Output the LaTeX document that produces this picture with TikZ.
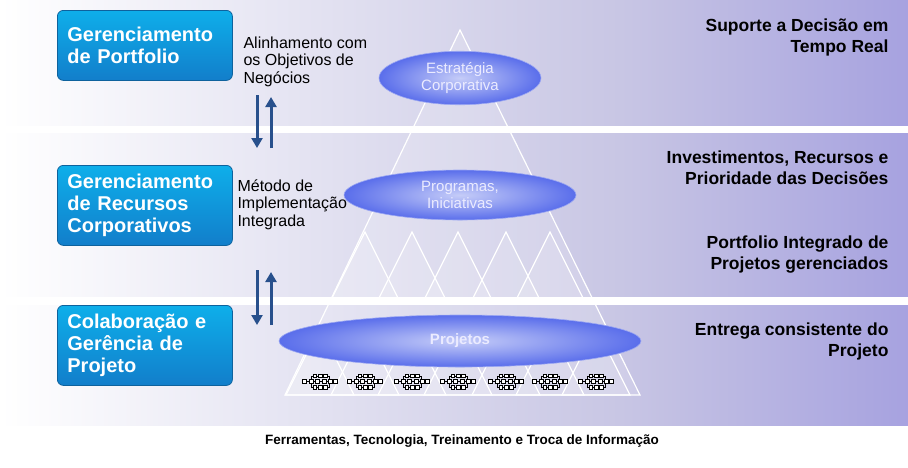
\documentclass[tikz,border=0pt]{standalone}
\usepackage{fontspec}
\setmainfont{Liberation Sans}
\usetikzlibrary{shapes.geometric,arrows.meta}
\definecolor{lav}{RGB}{200,198,228}
\definecolor{lavd}{RGB}{185,180,220}
\definecolor{boxb}{RGB}{20,140,225}
\definecolor{ellb}{RGB}{90,110,235}
\definecolor{arr}{RGB}{40,80,140}
\tikzset{
  bluebox/.style={draw=boxb!70!black,line width=0.8pt,rounded corners=6pt,top color=boxb!70!cyan,bottom color=boxb!90!black,text=white,font=\bfseries\fontsize{20}{22}\selectfont,align=left,anchor=north west,minimum width=173pt,inner xsep=10pt,text width=155pt},
  rlab/.style={font=\bfseries\fontsize{17.5}{21}\selectfont,align=right,anchor=north east},
  llab/.style={font=\fontsize{16}{17.5}\selectfont,align=left,anchor=north west},
  ell/.style={ellipse,draw=ellb!60!white,line width=0.6pt,inner color=ellb!35!white,outer color=ellb,text=white!92!blue},
  tri/.style={draw=white,line width=1.2pt,fill=white,fill opacity=0.15},
  ar/.style={draw=arr,line width=3pt,-{Triangle[length=10pt,width=11pt]}}
}
\begin{document}
\begin{tikzpicture}[x=1pt,y=-1pt]
\useasboundingbox (0,0) rectangle (908,467);
\fill[white] (0,0) rectangle (908,467);
% bands
\foreach \a/\b in {0/125,133/296,305/425}{
  \shade[left color=white,right color=lav] (0,\a) rectangle (620,\b);
  \shade[left color=lav,right color=lavd!90!blue] (620,\a) rectangle (908,\b);
}
% pyramid
\coordinate (apex) at (460,30);
\coordinate (bl) at (285,395);
\coordinate (br) at (640,395);
\draw[tri] (apex) -- (bl) -- (br) -- cycle;
\foreach \x in {365,412,458,506,550}{
  \draw[tri] (\x,232) -- (\x-34,300) -- (\x+34,300) -- cycle;
}
\foreach \x in {320,365,412,458,506,550,596}{
  \draw[tri] (\x,327) -- (\x-34,395) -- (\x+34,395) -- cycle;
}
% ellipses
\node[ell,minimum width=162pt,minimum height=44pt,font=\fontsize{15}{17}\selectfont,align=center] (est) at (460,78) {Estratégia\\Corporativa};
\node[ell,minimum width=232pt,minimum height=50pt,font=\fontsize{15}{17}\selectfont,align=center] (prog) at (460,195) {Programas,\\Iniciativas};
\node[ell,minimum width=362pt,minimum height=52pt,font=\bfseries\fontsize{15}{17}\selectfont] (proj) at (460,341) {Projetos};
% icons
\foreach \x in {320,365,412,458,506,550,596}{
  \begin{scope}[shift={(\x,381)},scale=1.3,line width=0.6pt]
    \draw (-12,0) -- (12,0);
    \draw (-7,-4) rectangle (7,5);
    \foreach \p in {-12,-7,-2,3,8,12}{\draw[fill=white] (\p-1.5,-1.5) rectangle (\p+1.5,1.5);}
    \foreach \p in {-4,0,4}{\draw[fill=white] (\p-1.5,-5.5) rectangle (\p+1.5,-2.5);\draw[fill=white] (\p-1.5,3.5) rectangle (\p+1.5,6.5);}
  \end{scope}
}
% blue boxes
\node[bluebox,minimum height=70pt] (b1) at (57,10) {Gerenciamento\\de Portfolio};
\node[bluebox,minimum height=80pt] (b2) at (57,165) {Gerenciamento\\de Recursos\\Corporativos};
\node[bluebox,minimum height=80pt] (b3) at (57,305) {Colaboração e\\Gerência de\\Projeto};
% left labels
\node[llab] (l1) at (240,33) {Alinhamento com\\os Objetivos de\\Negócios};
\node[llab] (l2) at (234,176) {Método de\\Implementação\\Integrada};
% arrows
\coordinate (a1s) at (257,95); \coordinate (a1e) at (257,148);
\coordinate (a2s) at (271,148); \coordinate (a2e) at (271,97);
\draw[ar] (a1s) -- (a1e); \draw[ar] (a2s) -- (a2e);
\coordinate (a3s) at (257,270); \coordinate (a3e) at (257,325);
\coordinate (a4s) at (271,325); \coordinate (a4e) at (271,272);
\draw[ar] (a3s) -- (a3e); \draw[ar] (a4s) -- (a4e);
% right labels
\node[rlab] (r1) at (892,15) {Suporte a Decisão em\\Tempo Real};
\node[rlab] (r2) at (892,147) {Investimentos, Recursos e\\Prioridade das Decisões};
\node[rlab] (r3) at (892,232) {Portfolio Integrado de\\Projetos gerenciados};
\node[rlab] (r4) at (892,319) {Entrega consistente do\\Projeto};
\node[font=\bfseries\fontsize{13.5}{15}\selectfont] (bot) at (462,441) {Ferramentas, Tecnologia, Treinamento e Troca de Informação};
\end{tikzpicture}
\end{document}
